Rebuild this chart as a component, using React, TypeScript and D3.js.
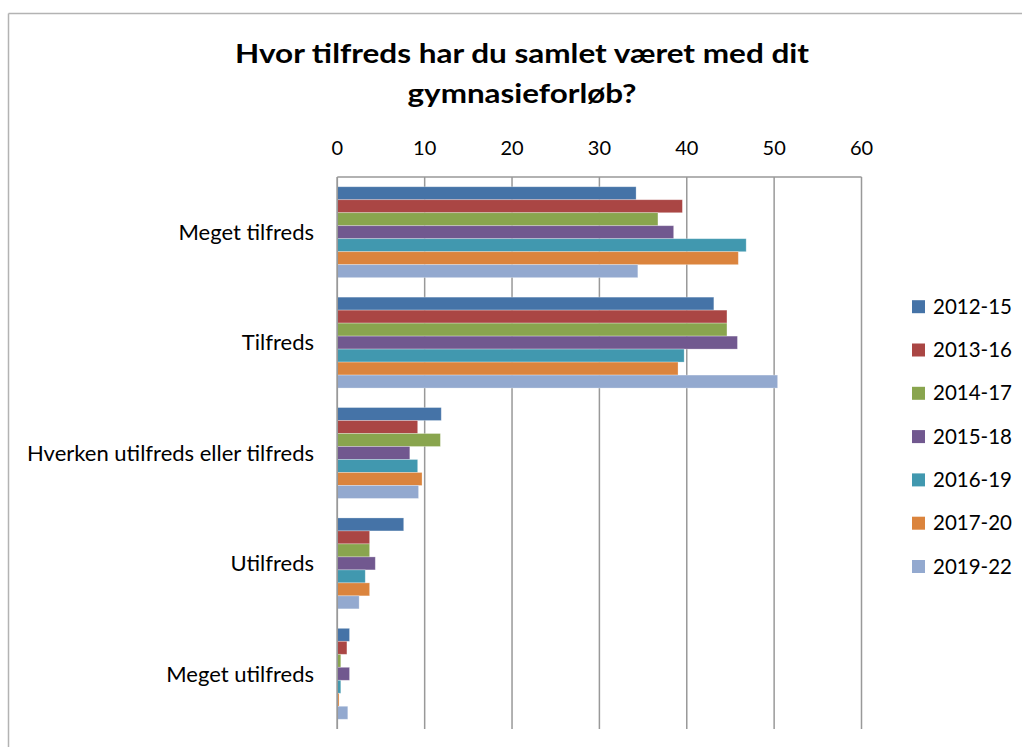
import React from 'react';
import * as d3 from 'd3';

const width = 1022;
const height = 747;
const plot = { left: 337.3, right: 861.5, top: 177, bottom: 729 };

const categories = ['Meget tilfreds', 'Tilfreds', 'Hverken utilfreds eller tilfreds', 'Utilfreds', 'Meget utilfreds'];
const seriesNames = ['2012-15', '2013-16', '2014-17', '2015-18', '2016-19', '2017-20', '2019-22'];
const colors = ['#4573a7', '#aa4644', '#89a54e', '#71588f', '#4198af', '#db843d', '#93a9cf'];

// one array per period, values in category order
const v2012 = [34.2, 43.1, 11.9, 7.6, 1.4];
const v2013 = [39.5, 44.6, 9.2, 3.7, 1.1];
const v2014 = [36.7, 44.6, 11.8, 3.7, 0.4];
const v2015 = [38.5, 45.8, 8.3, 4.35, 1.4];
const v2016 = [46.8, 39.7, 9.2, 3.2, 0.4];
const v2017 = [45.9, 39.0, 9.7, 3.7, 0.2];
const v2019 = [34.4, 50.4, 9.3, 2.5, 1.2];
const seriesValues = [v2012, v2013, v2014, v2015, v2016, v2017, v2019];

const ticks = [0, 10, 20, 30, 40, 50, 60];
const titleLines = ['Hvor tilfreds har du samlet været med dit', 'gymnasieforløb?'];
const titleWidths = [574, 229];

const font = 'Lato, "Open Sans", sans-serif';

export default function App() {
  const x = d3.scaleLinear().domain([0, 60]).range([plot.left, plot.right]);
  const y = d3.scaleBand().domain(categories).range([plot.top, plot.bottom]).padding(0);
  const inner = d3.scaleBand()
    .domain(seriesNames)
    .range([0, y.bandwidth()])
    .paddingInner(0)
    .paddingOuter(0.75);
  const legendY = d3.scalePoint().domain(seriesNames).range([306.7, 566.5]);

  return (
    <svg width={width} height={height} style={{ position: 'absolute', left: 0, top: 0, background: '#fff' }}>
      {/* chart frame */}
      <line x1={8.5} y1={13.5} x2={width} y2={13.5} stroke="#b3b3b3" strokeWidth={1.5} />
      <line x1={8.5} y1={13.5} x2={8.5} y2={height} stroke="#b3b3b3" strokeWidth={1.5} />

      {titleLines.map((t, i) => (
        <text key={t} x={522} y={63 + i * 40} textAnchor="middle" fontFamily={font}
          fontWeight="bold" fontSize={27} fill="#000"
          textLength={titleWidths[i]} lengthAdjust="spacingAndGlyphs">{t}</text>
      ))}

      {/* gridlines */}
      {ticks.map((t) => (
        <line key={t} x1={x(t)} x2={x(t)} y1={plot.top} y2={plot.bottom} stroke="#999" strokeWidth={1.5} />
      ))}
      <line x1={plot.left} x2={plot.right} y1={plot.top} y2={plot.top} stroke="#999" strokeWidth={1.5} />

      {ticks.map((t) => (
        <text key={t} x={x(t)} y={155} textAnchor="middle" fontFamily={font} fontSize={20} fill="#000">{t}</text>
      ))}

      {categories.map((c, ci) => (
        <g key={c}>
          {seriesNames.map((s, si) => (
            <rect
              key={s}
              x={x(0)}
              y={y(c) + inner(s)}
              width={x(seriesValues[si][ci]) - x(0)}
              height={inner.bandwidth()}
              fill={colors[si]}
              stroke="#fff"
              strokeOpacity={0.35}
              strokeWidth={0.8}
            />
          ))}
          <text x={314} y={y(c) + y.bandwidth() / 2} dy="0.35em" textAnchor="end"
            fontFamily={font} fontSize={22} fill="#000">{c}</text>
        </g>
      ))}
      <line x1={x(0)} x2={x(0)} y1={plot.top} y2={plot.bottom} stroke="#999" strokeWidth={1.5} />

      {seriesNames.map((s, si) => (
        <g key={s} transform={`translate(0, ${legendY(s)})`}>
          <rect x={912} y={-6.5} width={13} height={13} fill={colors[si]} />
          <text x={933} y={0} dy="0.35em" fontFamily={font} fontSize={20.5} fill="#000">{s}</text>
        </g>
      ))}
    </svg>
  );
}
